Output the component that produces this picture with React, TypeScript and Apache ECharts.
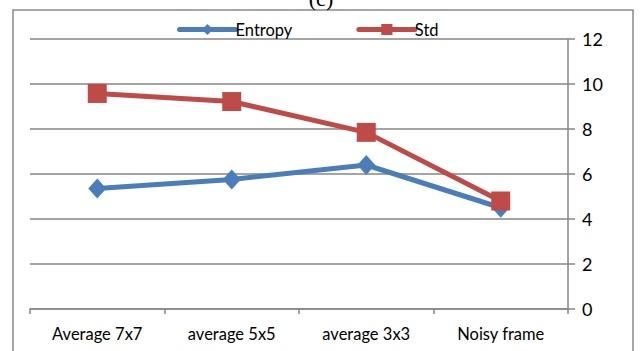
import React, { useEffect, useRef } from "react";
import * as echarts from "echarts";

const categories = ["Average 7x7", "average 5x5", "average 3x3", "Noisy frame"];
const entropy = [5.36, 5.76, 6.4, 4.5];
const std = [9.58, 9.22, 7.85, 4.8];
const yTicks = { min: 0, max: 12, interval: 2 };

export default function App() {
  const ref = useRef<HTMLDivElement>(null);
  useEffect(() => {
    const chart = echarts.init(ref.current!, null, { renderer: "svg" });
    const font = "Lato, 'Noto Sans', sans-serif";
    chart.setOption({
      animation: false,
      backgroundColor: "#ffffff",
      graphic: [
        {
          type: "rect",
          shape: { x: 13, y: 10, width: 620, height: 360 },
          style: { fill: "none", stroke: "#888888", lineWidth: 1.5 },
          silent: true,
        },
        {
          type: "text",
          x: 321,
          y: -13,
          style: {
            text: "(c)",
            font: "22px 'Liberation Serif', serif",
            fill: "#000",
            textAlign: "center",
          },
        },
      ],
      legend: {
        left: 172,
        top: 16,
        itemWidth: 56,
        itemHeight: 14,
        itemGap: 64,
        lineStyle: { width: 5, cap: "round" },
        textStyle: { fontFamily: font, fontSize: 16.5, color: "#000", padding: [0, 0, 0, -5] },
        data: ["Entropy", "Std"],
      },
      grid: { left: 30, right: 75, top: 39, bottom: 42 },
      xAxis: {
        type: "category",
        data: categories,
        boundaryGap: true,
        axisLine: { lineStyle: { color: "#868686", width: 1.5 } },
        axisTick: { show: true, length: 5, lineStyle: { color: "#868686", width: 1.5 } },
        axisLabel: { fontFamily: font, fontSize: 16.5, color: "#000", margin: 16 },
      },
      yAxis: {
        type: "value",
        position: "right",
        min: yTicks.min,
        max: yTicks.max,
        interval: yTicks.interval,
        axisLine: { show: true, lineStyle: { color: "#868686", width: 1.5 } },
        axisTick: { show: true, length: 7, lineStyle: { color: "#868686", width: 1.5 } },
        splitLine: { show: true, lineStyle: { color: "#868686", width: 1.5 } },
        axisLabel: { fontFamily: font, fontSize: 18, color: "#000", margin: 14 },
      },
      series: [
        {
          name: "Entropy",
          type: "line",
          data: entropy,
          symbol: "diamond",
          symbolSize: [18, 20],
          lineStyle: { color: "#4A7EBB", width: 5 },
          itemStyle: { color: "#4A7EBB" },
          z: 2,
        },
        {
          name: "Std",
          type: "line",
          data: std,
          symbol: "rect",
          symbolSize: 19,
          lineStyle: { color: "#BE4B48", width: 5 },
          itemStyle: { color: "#BE4B48" },
          z: 3,
        },
      ],
    });
    return () => chart.dispose();
  }, []);
  return (
    <div
      ref={ref}
      style={{ position: "absolute", left: 0, top: 0, width: 643, height: 351 }}
    />
  );
}
